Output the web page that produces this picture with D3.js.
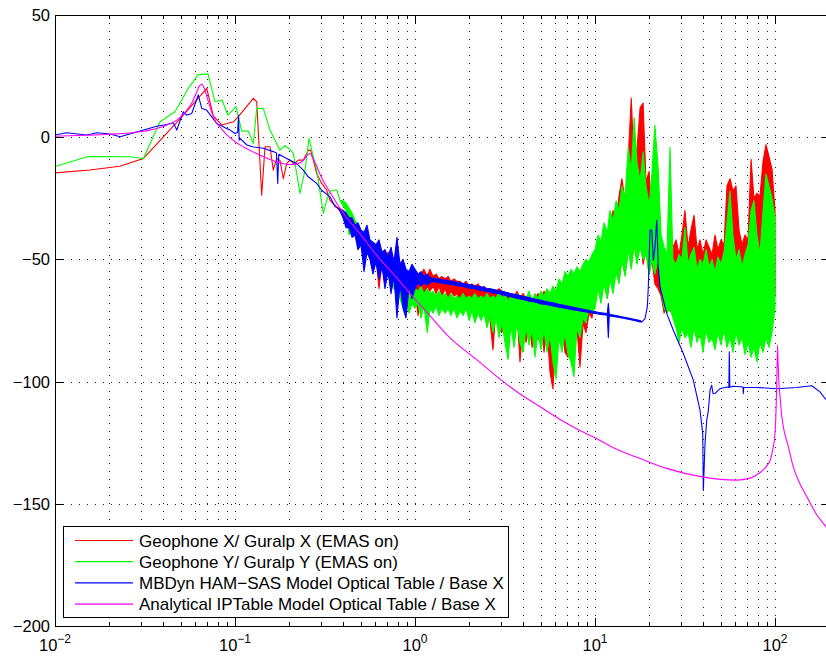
<!DOCTYPE html>
<html>
<head>
<meta charset="utf-8">
<script src="https://cdn.jsdelivr.net/npm/d3@7"></script>
<style>
  body { margin: 0; background: #fff; }
  svg { display: block; font-family: "Liberation Sans", Arial, Helvetica, sans-serif; }
</style>
</head>
<body>
<svg id="chart" width="826" height="657"></svg>
<script>
// ---- axis definitions ----
const xDomain = [0.01, 200];
const yDomain = [-200, 50];
const yTicks = [50, 0, -50, -100, -150, -200];
const xDecades = [0.01, 0.1, 1, 10, 100];
const xDecadeExponents = ["\u22122", "\u22121", "0", "1", "2"];

const seriesNames = [
  "Geophone X/ Guralp X (EMAS on)",
  "Geophone Y/ Guralp Y (EMAS on)",
  "MBDyn HAM\u2212SAS Model Optical Table / Base X",
  "Analytical IPTable Model Optical Table / Base X"
];
const seriesColors = ["#ff0000", "#00ff00", "#0000ff", "#ff00ff"];

// ---- transfer functions: [frequency Hz, upper dB, lower dB] ----
// (a single value means the trace is a plain line at that frequency)
const geophoneX = [
  [0.01,-14.6],[0.0156,-13.4],[0.0229,-11.9],[0.031,-8.7],[0.0495,7.5],[0.0697,20],[0.0757,8.7],[0.0844,5],
  [0.0979,6.3],[0.1043,8.4],[0.1264,15.9],[0.132,14.5],[0.1407,-23.7],[0.1468,-3.9],[0.1565,-3.9],[0.1632,-13.5],
  [0.1705,-8.7],[0.1778,-9.5],[0.1855,-17],[0.1937,-10.8],[0.2021,-9.4],[0.2127,-11],[0.2247,-9.4],[0.2395,-9.4],
  [0.2554,-5.3],[0.2643,-5.5],[0.2843,-14.9],[0.3032,-18.9],[0.3232,-21.7],[0.337,-25.8],[0.3673,-28.5],
  [0.398,-30,-32],[0.414,-32,-34],[0.430,-33,-36],[0.447,-35,-37],[0.464,-36,-39],[0.482,-38,-40],[0.501,-39,-42],
  [0.521,-41,-43],[0.541,-42,-45],[0.562,-43,-46],[0.584,-44,-48],[0.607,-46,-49],[0.631,-46,-62],[0.656,-48,-51],
  [0.681,-49,-53],[0.708,-47,-54],[0.736,-51,-55],[0.764,-52,-61],[0.794,-53,-57],[0.825,-54,-59],[0.858,-55,-60],
  [0.891,-55,-63],[0.926,-56,-61],[0.962,-56,-64],
  [1.00,-55,-62],[1.04,-57,-73],[1.08,-56,-62],[1.12,-54,-65],[1.17,-57,-61],[1.21,-54,-63],[1.26,-57,-61],
  [1.31,-56,-64],[1.36,-58,-61],[1.41,-57,-65],[1.47,-58,-62],[1.53,-57,-66],[1.58,-59,-63],[1.65,-58,-65],
  [1.71,-59,-64],[1.78,-59,-67],[1.85,-60,-64],[1.92,-59,-68],[2.00,-61,-65],[2.07,-60,-67],[2.15,-61,-66],
  [2.24,-60,-70],[2.33,-62,-66],[2.42,-61,-72],[2.51,-63,-67],[2.61,-62,-75],[2.71,-63,-87],[2.82,-63,-70],
  [2.93,-62,-78],[3.04,-63,-80],[3.16,-65,-72],[3.29,-64,-85],[3.41,-66,-74],[3.55,-65,-82],[3.69,-63,-72],
  [3.83,-66,-92],[3.98,-64,-76],[4.14,-66,-84],[4.30,-65,-74],[4.47,-67,-86],[4.64,-66,-76],[4.82,-64,-83],
  [5.01,-66,-75],[5.21,-63,-88],[5.41,-66,-78],[5.62,-67,-96],[5.84,-65,-103],[6.07,-66,-80],[6.31,-61,-84],
  [6.56,-63,-78],[6.81,-65,-88],[7.08,-62,-90],[7.36,-64,-80],[7.64,-62,-86],[7.94,-61,-78],[8.25,-63,-94],
  [8.58,-60,-76],[8.91,-61,-80],[9.26,-58,-72],[9.62,-56,-74],
  [10.0,-50,-66],[10.4,-44,-60],[10.8,-48,-63],[11.2,-40,-58],[11.7,-44,-66],[12.1,-36,-57],[12.6,-30,-62],
  [13.1,-35,-54],[13.6,-24,-58],[14.1,-17,-50],[14.7,-26,-56],[15.3,-8,-46],[15.9,16,-52],[16.5,-12,-44],
  [17.1,-5,-50],[17.8,12,-40],[18.5,14,-52],[19.2,-18,-46],[20.0,-14,-56],[20.7,-35,-50],[21.5,-42,-60],
  [22.4,-49,-62],[23.3,-55,-65],[24.2,-58,-72],[25.1,-60,-68],[26.1,-60,-71],[27.1,-45,-72],[28.2,-42,-74],
  [29.3,-48,-76],[30.4,-40,-78],[31.6,-30,-72],[32.9,-45,-75],[34.1,-38,-80],[35.5,-32,-74],[36.9,-46,-76],
  [38.3,-42,-82],[39.8,-48,-75],[41.4,-42,-78],[43.0,-45,-73],[44.7,-48,-80],[46.4,-40,-76],[48.2,-46,-74],
  [50.1,-42,-78],[52.1,-44,-75],[54.1,-20,-77],[56.2,-17,-74],[58.4,-22,-80],[60.7,-20,-76],[63.1,-38,-78],
  [65.6,-44,-73],[68.1,-40,-80],[70.8,-42,-76],[73.6,-9,-78],[76.4,-25,-75],[79.4,-23,-80],[82.5,-24,-74],
  [85.8,-10,-78],[89.1,-3,-70],[92.6,-8,-72],[96.2,-13,-68],[100,-30,-65]
];

const geophoneY = [
  [0.01,-12],[0.0153,-7.9],[0.0261,-8],[0.031,-8.7],[0.0383,6.3],[0.0464,10.4],[0.055,20],[0.0625,25.6],
  [0.0708,25.9],[0.0774,14.5],[0.0847,15.2],[0.0914,9],[0.1013,12.5],[0.109,2.5],[0.1186,2.5],[0.1264,-2.6],
  [0.132,11.8],[0.1437,11.8],[0.1565,2.9],[0.1668,-1.2],[0.1778,-5.3],[0.1896,-3.5],[0.2021,-5],[0.2108,-6.6],
  [0.2297,-23],[0.2448,-13.5],[0.2577,-0.5],[0.2667,-5.3],[0.2843,-13.5],[0.3095,-31.2],[0.3232,-25.8],
  [0.337,-22],[0.3673,-21.5],[0.383,-25.8],
  [0.398,-26,-28],[0.414,-27,-30],[0.430,-29,-40],[0.447,-31,-36],[0.464,-34,-38],[0.482,-36,-39],[0.501,-38,-41],
  [0.521,-39,-44],[0.541,-41,-45],[0.562,-42,-47],[0.584,-44,-48],[0.607,-45,-50],[0.631,-47,-52],[0.656,-48,-54],
  [0.681,-50,-55],[0.708,-51,-57],[0.736,-53,-59],[0.764,-54,-62],[0.794,-56,-63],[0.825,-57,-66],[0.858,-58,-70],
  [0.891,-59,-67],[0.926,-60,-72],[0.962,-61,-68],
  [1.00,-62,-70],[1.04,-63,-68],[1.08,-61,-74],[1.12,-64,-69],[1.17,-62,-80],[1.21,-64,-70],[1.26,-63,-72],
  [1.31,-65,-69],[1.36,-63,-73],[1.41,-65,-70],[1.47,-64,-72],[1.53,-66,-70],[1.58,-64,-73],[1.65,-66,-70],
  [1.71,-65,-74],[1.78,-66,-71],[1.85,-64,-73],[1.92,-66,-70],[2.00,-65,-75],[2.07,-66,-71],[2.15,-64,-76],
  [2.24,-66,-72],[2.33,-65,-75],[2.42,-66,-72],[2.51,-64,-78],[2.61,-66,-73],[2.71,-65,-80],[2.82,-66,-74],
  [2.93,-63,-82],[3.04,-66,-76],[3.16,-64,-84],[3.29,-67,-91],[3.41,-65,-77],[3.55,-66,-86],[3.69,-64,-76],
  [3.83,-67,-84],[3.98,-65,-88],[4.14,-66,-78],[4.30,-63,-85],[4.47,-67,-79],[4.64,-64,-90],[4.82,-66,-80],
  [5.01,-63,-87],[5.21,-65,-79],[5.41,-62,-88],[5.62,-64,-81],[5.84,-61,-92],[6.07,-63,-99],[6.31,-58,-82],
  [6.56,-60,-88],[6.81,-55,-80],[7.08,-57,-89],[7.36,-54,-92],[7.64,-56,-98],[7.94,-53,-78],[8.25,-55,-82],
  [8.58,-52,-74],[8.91,-50,-76],[9.26,-51,-70],[9.62,-48,-72],
  [10.0,-46,-70],[10.4,-40,-62],[10.8,-43,-68],[11.2,-35,-60],[11.7,-39,-66],[12.1,-30,-58],[12.6,-34,-64],
  [13.1,-26,-55],[13.6,-30,-60],[14.1,-20,-50],[14.7,-25,-57],[15.3,-4,-46],[15.9,-14,-54],[16.5,8,-44],
  [17.1,-10,-52],[17.8,-18,-45],[18.5,-6,-50],[19.2,-20,-48],[20.0,-28,-56],[20.7,-15,-50],[21.5,5,-56],
  [22.4,-12,-50],[23.3,-40,-62],[24.2,-45,-70],[25.1,-48,-72],[26.1,-4,-70],[27.1,-50,-74],[28.2,-52,-78],
  [29.3,-48,-84],[30.4,-50,-78],[31.6,-37,-82],[32.9,-52,-80],[34.1,-48,-86],[35.5,-45,-78],[36.9,-54,-84],
  [38.3,-50,-80],[39.8,-52,-88],[41.4,-46,-79],[43.0,-53,-84],[44.7,-50,-82],[46.4,-55,-87],[48.2,-49,-80],
  [50.1,-52,-85],[52.1,-47,-79],[54.1,-35,-86],[56.2,-22,-82],[58.4,-40,-88],[60.7,-50,-80],[63.1,-46,-85],
  [65.6,-53,-82],[68.1,-48,-89],[70.8,-44,-84],[73.6,-30,-90],[76.4,-26,-86],[79.4,-40,-92],[82.5,-48,-84],
  [85.8,-30,-88],[89.1,-15,-82],[92.6,-20,-86],[96.2,-25,-80],[100,-33,-70]
];

const mbdynModel = [
  [0.01,0.9],[0.0116,1.8],[0.015,0.9],[0.0171,1.8],[0.0202,1.3],[0.023,0.2],[0.0297,2.5],[0.0367,4.5],
  [0.0418,5.2],[0.0454,5.9],[0.0475,2.9],[0.0516,10.4],[0.0539,9],[0.0575,9.7],[0.0625,17.3],[0.0653,11.8],
  [0.0697,11],[0.0791,5.6],[0.0899,3.6],[0.094,2.9],[0.1,1.5],[0.1035,2],[0.1046,9],[0.1055,-1.2],[0.1066,-0.5],
  [0.1165,-3.2],[0.1264,-4],[0.1437,-4.5],[0.1632,-5.9],[0.17,-6.5],[0.1727,-18.9],[0.175,-7],[0.1855,-8],
  [0.2021,-9.4],[0.22,-10.8],[0.2395,-13.5],[0.2554,-16.2],[0.2843,-18.9],[0.3032,-21.7],[0.337,-24.4],
  [0.3594,-28.4],[0.38,-29.5],
  [0.398,-30,-33],[0.414,-31,-37],[0.430,-33,-37],[0.447,-33,-41],[0.464,-36,-40],[0.482,-35,-46],[0.501,-38,-44],
  [0.521,-39,-55],[0.541,-36,-47],[0.562,-42,-50],[0.584,-43,-56],[0.607,-44,-51],[0.631,-42,-58],[0.656,-47,-53],
  [0.681,-46,-62],[0.708,-49,-55],[0.736,-45,-64],[0.764,-51,-57],[0.794,-41,-74],[0.825,-52,-60],[0.858,-50,-70],
  [0.891,-54,-74],[0.926,-55,-61],[0.962,-52,-66],
  [1.00,-54,-62],[1.04,-56,-59.5],[1.08,-55,-61],[1.12,-57,-59.5],[1.17,-56,-60.5],[1.21,-57.5,-59.5],
  [1.26,-57.6,-59],[1.31,-58,-59.2],[1.36,-57.9,-59.6],[1.41,-58.4,-59.5],[1.47,-58.4,-60],[1.58,-58.9,-60.2],
  [1.71,-59.3,-60.8],[1.85,-59.9,-61.1],[2.00,-60.3,-61.8],[2.15,-60.8,-62],[2.33,-61.2,-62.7],[2.51,-61.8,-63],
  [2.71,-62.2,-63.7],[2.93,-62.8,-64],[3.16,-63.3,-64.8],[3.41,-64,-65.3],[3.69,-64.5,-66],[3.98,-65.1,-66.4],
  [4.30,-65.6,-67.1],[4.64,-66.2,-67.4],[5.01,-66.7,-68.2],[5.41,-67.3,-68.5],[5.84,-67.8,-69.1],[6.31,-68.4,-69.6],
  [6.81,-68.9,-70],[7.36,-69.4,-70.5],[7.94,-69.9,-70.9],[8.58,-70.4,-71.3],[9.26,-70.9,-71.7],[10.0,-71.4,-72.1],
  [10.8,-71.8,-72.5],[11.7,-72.2,-72.8],[11.86,-68,-82],[12.0,-72.5,-73.1],[13.1,-73,-73.6],[14.1,-73.5,-74],
  [15.3,-74,-74.5],[16.5,-74.5,-75],[17.8,-75,-75.6],[18.2,-75.6],
  [18.96,-74.2],[19.53,-69.4],[19.78,-61.2],[20.21,-38],[20.65,-38],[21.09,-50.3],[21.54,-44.9],[22.02,-34],
  [22.47,-53],[22.97,-61.2],[25.02,-72.1],[27.23,-79],[30.95,-88.5],[35.17,-99.4],[38.31,-111.7],[39.66,-121.2],
  [39.97,-144.5],[40.85,-125.3],[41.75,-115.8],[42.6,-112],[43.55,-103.5],[44.5,-101.5],[45.3,-105],
  [46.42,-104.9],[49.48,-102.9],[53.91,-102.2],[55.4,-102.4],[55.73,-87.8],[56.1,-102.3],[58.66,-101.9],
  [66.4,-102.2],[66.66,-104.9],[67,-102.4],[79.11,-102.4],[102.2,-102.9],[132,-102.4],[159.9,-101.7],
  [177.8,-104.2],[189.6,-106.9],[200,-108.5]
];

// analytical model: [frequency Hz, dB]
const analyticalModel = [
  [0.01,0.4],[0.015,0.8],[0.02,1.2],[0.0297,2.2],[0.0417,4.9],[0.048,7.2],[0.054,11],[0.058,14.5],[0.061,18.2],
  [0.0635,21],[0.0654,21.6],[0.0675,20],[0.0705,15.5],[0.0758,8.3],[0.085,3],[0.094,-0.3],[0.1,-1.8],
  [0.115,-4.5],[0.132,-6.7],[0.155,-9],[0.178,-10.5],[0.2,-11.2],[0.22,-11],[0.24,-9.5],[0.255,-7],
  [0.262,-6.7],[0.27,-8.5],[0.285,-12],[0.3,-16],[0.337,-22.5],[0.4,-31],[0.5,-40],[0.64,-50],[0.79,-57.5],
  [0.937,-63.9],[1.2,-72.7],[1.56,-82],[2.2,-91],[3.09,-100],[4.0,-106],[5.0,-110.5],[6.4,-115.5],[8.0,-119.5],
  [10,-123],[13,-127.5],[17.8,-131.5],[25,-135.5],[39.5,-139],[61,-140.3],[72,-139.6],[81.6,-137.5],[90,-134.5],
  [94.2,-132],[97,-128],[100,-121],[101.5,-110],[102.5,-97],[103.3,-85],[104,-92],[105,-100],[106.6,-106],
  [109,-114],[111.2,-118.5],[118,-126],[126.4,-135],[138,-142],[150,-147],[170.5,-154.5],[192,-159.5],
  [200,-161.5]
];

// ---- layout ----
const svg = d3.select("#chart");
const x = d3.scaleLog().domain(xDomain).range([55, 829.2]);
const y = d3.scaleLinear().domain(yDomain).range([626, 15]);
const [px0, px1] = x.range();
const [py0, py1] = y.range();
const crisp = v => Math.round(v) + 0.5;

// dotted grid
const grid = svg.append("g").attr("stroke", "#1a1a1a").attr("stroke-width", 1)
  .attr("stroke-dasharray", "1,7").attr("fill", "none");
const xTicksAll = x.ticks().filter(t => t > xDomain[0] * 1.0001 && t < xDomain[1] * 0.9999);
grid.selectAll("line.v").data(xTicksAll).join("line").attr("class", "v")
  .attr("x1", d => crisp(x(d))).attr("x2", d => crisp(x(d)))
  .attr("y1", py1).attr("y2", py0);
grid.selectAll("line.h").data(yTicks.filter(t => t > yDomain[0] && t < yDomain[1])).join("line").attr("class", "h")
  .attr("y1", d => crisp(y(d))).attr("y2", d => crisp(y(d)))
  .attr("x1", px0).attr("x2", px1);

// data traces
svg.append("clipPath").attr("id", "plotclip").append("rect")
  .attr("x", px0).attr("y", py1).attr("width", px1 - px0).attr("height", py0 - py1);
const plot = svg.append("g").attr("clip-path", "url(#plotclip)");

// each trace is the envelope of the record: filled between its per-frequency
// minimum and maximum, collapsing to a plain line where both are equal
const band = d3.area()
  .x(d => x(d[0]))
  .y0(d => y(d.length > 2 ? d[2] : d[1]))
  .y1(d => y(d[1]));

[geophoneX, geophoneY, mbdynModel].forEach((rows, i) => {
  plot.append("path").attr("d", band(rows))
    .attr("fill", seriesColors[i]).attr("stroke", seriesColors[i])
    .attr("stroke-width", 1.1).attr("stroke-linejoin", "round");
});

const smooth = d3.line().x(d => x(d[0])).y(d => y(d[1])).curve(d3.curveMonotoneX);
plot.append("path").attr("d", smooth(analyticalModel))
  .attr("fill", "none").attr("stroke", seriesColors[3]).attr("stroke-width", 1.1);

// axes box with inward ticks
const axes = svg.append("g").attr("stroke", "#000").attr("stroke-width", 1).attr("fill", "none");
axes.append("line").attr("x1", px0).attr("x2", px1 + 1).attr("y1", crisp(py0)).attr("y2", crisp(py0));
axes.append("line").attr("x1", px0).attr("x2", px1 + 1).attr("y1", crisp(py1)).attr("y2", crisp(py1));
axes.append("line").attr("x1", crisp(px0)).attr("x2", crisp(px0)).attr("y1", py1).attr("y2", py0 + 1);
axes.append("line").attr("x1", crisp(px1)).attr("x2", crisp(px1)).attr("y1", py1).attr("y2", py0 + 1);

const isMajor = t => Math.abs(Math.log10(t) - Math.round(Math.log10(t))) < 1e-6;
x.ticks().forEach(t => {
  const xx = crisp(x(t));
  const len = isMajor(t) ? 8 : 4;
  axes.append("line").attr("x1", xx).attr("x2", xx).attr("y1", py0).attr("y2", py0 - len);
  axes.append("line").attr("x1", xx).attr("x2", xx).attr("y1", py1).attr("y2", py1 + len);
});
yTicks.forEach(t => {
  const yy = crisp(y(t));
  axes.append("line").attr("x1", px0).attr("x2", px0 + 8).attr("y1", yy).attr("y2", yy);
  axes.append("line").attr("x1", px1).attr("x2", px1 - 8).attr("y1", yy).attr("y2", yy);
});

// tick labels
const labels = svg.append("g").attr("fill", "#000");
labels.selectAll("text.y").data(yTicks).join("text").attr("class", "y")
  .attr("x", 50).attr("y", d => y(d)).attr("dy", "0.36em")
  .attr("text-anchor", "end").attr("font-size", 16.5)
  .text(d => d < 0 ? "\u2212" + Math.abs(d) : String(d));

xDecades.forEach((t, i) => {
  const tx = labels.append("text").attr("x", x(t)).attr("y", 651)
    .attr("text-anchor", "middle").attr("font-size", 16.5);
  tx.append("tspan").text("10");
  tx.append("tspan").attr("dy", -8).attr("font-size", 12).text(xDecadeExponents[i]);
});

// legend
const legend = svg.append("g");
legend.append("rect").attr("x", 63.5).attr("y", 526.5).attr("width", 445).attr("height", 91)
  .attr("fill", "#fff").attr("stroke", "#000").attr("stroke-width", 1);
seriesNames.forEach((name, i) => {
  const ly = 540.5 + i * 21.2;
  legend.append("line").attr("x1", 75).attr("x2", 133).attr("y1", ly).attr("y2", ly)
    .attr("stroke", seriesColors[i]).attr("stroke-width", 1.2);
  legend.append("text").attr("x", 139).attr("y", ly + 6).attr("font-size", 17)
    .attr("fill", "#000").text(name);
});
</script>
</body>
</html>
